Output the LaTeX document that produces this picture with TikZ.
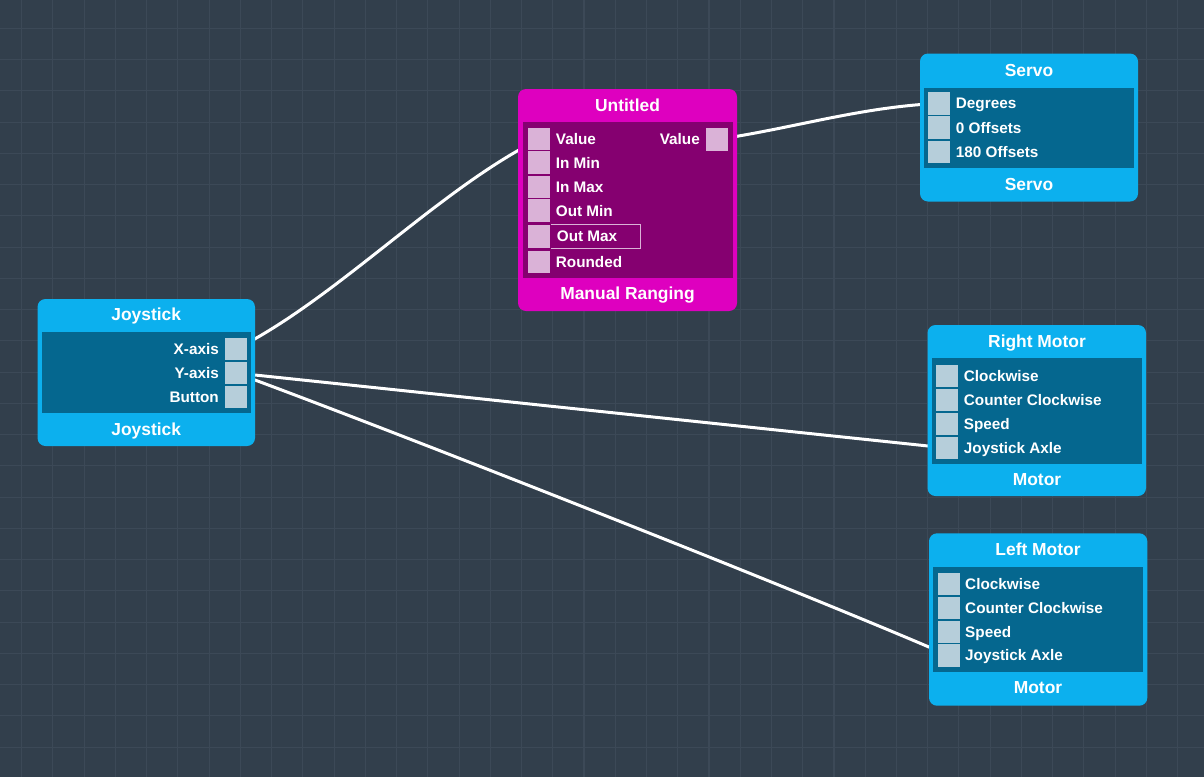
\documentclass[tikz,border=0pt]{standalone}
\usepackage{fontspec}
\setmainfont{Liberation Sans}
\pgfdeclarelayer{gridlayer}
\pgfdeclarelayer{wirelayer}
\pgfsetlayers{gridlayer,wirelayer,main}
\definecolor{bgc}{HTML}{323F4C}
\definecolor{gridc}{HTML}{3C4957}
\definecolor{blueO}{HTML}{0CB0EE}
\definecolor{blueP}{HTML}{05678F}
\definecolor{bluePort}{HTML}{B6CEDA}
\definecolor{magO}{HTML}{DE00BF}
\definecolor{magP}{HTML}{850070}
\definecolor{magPort}{HTML}{DAB2D7}
\begin{document}
\begin{tikzpicture}[x=1pt,y=-1pt,
  outerbox/.style={rounded corners=8pt, draw=none, inner sep=0},
  panelbox/.style={draw=none, inner sep=0},
  titletext/.style={text=white, inner sep=0, font=\fontsize{17.4}{20}\selectfont\bfseries, text height=12.4pt, text depth=0pt},
  labeltext/.style={text=white, inner sep=0, font=\fontsize{15.3}{18}\selectfont\bfseries, text height=10.9pt, text depth=0pt},
  portB/.style={fill=bluePort, draw=blueP, line width=1.2pt, minimum width=23.2pt, minimum height=24pt, inner sep=0},
  portM/.style={fill=magPort, draw=magP, line width=1.2pt, minimum width=23.2pt, minimum height=24pt, inner sep=0},
  wire/.style={white, line width=3pt, line cap=round},
  gridline/.style={gridc, line width=1.1pt}]
\useasboundingbox (0,0) rectangle (1204,777);
\begin{pgfonlayer}{gridlayer}
\fill[bgc] (0,0) rectangle (1204,777);
\foreach \i in {0,...,37} \draw[gridline] ({21.7+31.24*\i},0) -- ({21.7+31.24*\i},777);
\foreach \j in {0,...,23} \draw[gridline] (0,{28.3+31.25*\j}) -- (1204,{28.3+31.25*\j});
\end{pgfonlayer}

% Joystick
\node[outerbox, fill=blueO, minimum width=217.5pt, minimum height=147pt] (joy) at (146.25,372.5) {};
\node[panelbox, fill=blueP, minimum width=209.5pt, minimum height=81.5pt] (joyp) at (146.25,372.25) {};
\node[titletext] (joyt) at (146.25,314) {Joystick};
\node[titletext] (joyf) at (146.25,429.5) {Joystick};
\node[portB] (jx) at (236,349) {};
\node[portB] (jy) at (236,373) {};
\node[portB] (jb) at (236,397) {};
\node[labeltext, anchor=east] (jxl) at (219,349) {X-axis};
\node[labeltext, anchor=east] (jyl) at (219,373) {Y-axis};
\node[labeltext, anchor=east] (jbl) at (219,397) {Button};

% Untitled
\node[outerbox, fill=magO, minimum width=219pt, minimum height=222pt] (unt) at (627.5,200) {};
\node[panelbox, fill=magP, minimum width=210pt, minimum height=156pt] (untp) at (628,200) {};
\node[titletext] (untt) at (627.5,105.5) {Untitled};
\node[titletext] (untf) at (627.5,293) {Manual Ranging};
\node[draw=magPort, line width=0.9pt, minimum width=113pt, minimum height=24.4pt, inner sep=0] (omhl) at (583.8,236.5) {};
\node[portM] (uv) at (538.5,139.5) {};
\node[portM] (uimin) at (538.5,162.8) {};
\node[portM] (uimax) at (538.5,187) {};
\node[portM] (uomin) at (538.5,210.8) {};
\node[portM] (uomax) at (538.5,236.5) {};
\node[portM] (urnd) at (538.5,262) {};
\node[portM] (uo) at (717,139.5) {};
\node[labeltext, anchor=west] at (555.7,139.5) {Value};
\node[labeltext, anchor=west] at (555.7,162.8) {In Min};
\node[labeltext, anchor=west] at (555.7,187) {In Max};
\node[labeltext, anchor=west] at (555.7,210.8) {Out Min};
\node[labeltext, anchor=west] at (556.7,236.5) {Out Max};
\node[labeltext, anchor=west] at (555.7,262) {Rounded};
\node[labeltext, anchor=east] at (700,139.5) {Value};

% Servo
\node[outerbox, fill=blueO, minimum width=218pt, minimum height=148pt] (srv) at (1029,127.5) {};
\node[panelbox, fill=blueP, minimum width=209.5pt, minimum height=80pt] (srvp) at (1028.75,127.5) {};
\node[titletext] (srvt) at (1029,70.7) {Servo};
\node[titletext] (srvf) at (1029,184.3) {Servo};
\node[portB] (sd) at (939,103.3) {};
\node[portB] (s0) at (939,127.8) {};
\node[portB] (s180) at (939,152) {};
\node[labeltext, anchor=west] at (955.7,103.3) {Degrees};
\node[labeltext, anchor=west] at (955.7,127.8) {0 Offsets};
\node[labeltext, anchor=west] at (955.7,152) {180 Offsets};

% Right Motor
\node[outerbox, fill=blueO, minimum width=218.5pt, minimum height=171pt] (rm) at (1036.75,410.5) {};
\node[panelbox, fill=blueP, minimum width=209.4pt, minimum height=105.7pt] (rmp) at (1037,411.15) {};
\node[titletext] (rmt) at (1037,341.7) {Right Motor};
\node[titletext] (rmf) at (1037,479.3) {Motor};
\node[portB] (rcw) at (947,376) {};
\node[portB] (rccw) at (947,400) {};
\node[portB] (rsp) at (947,424) {};
\node[portB] (rja) at (947,448) {};
\node[labeltext, anchor=west] at (963.7,376) {Clockwise};
\node[labeltext, anchor=west] at (963.7,400) {Counter Clockwise};
\node[labeltext, anchor=west] at (963.7,424) {Speed};
\node[labeltext, anchor=west] at (963.7,448) {Joystick Axle};

% Left Motor
\node[outerbox, fill=blueO, minimum width=218.3pt, minimum height=172.4pt] (lm) at (1038.15,619.5) {};
\node[panelbox, fill=blueP, minimum width=210pt, minimum height=105pt] (lmp) at (1038.3,619.2) {};
\node[titletext] (lmt) at (1038,549) {Left Motor};
\node[titletext] (lmf) at (1038,687.7) {Motor};
\node[portB] (lcw) at (948.7,584) {};
\node[portB] (lccw) at (948.7,608) {};
\node[portB] (lsp) at (948.7,632) {};
\node[portB] (lja) at (948.7,655.5) {};
\node[labeltext, anchor=west] at (965,584) {Clockwise};
\node[labeltext, anchor=west] at (965,608) {Counter Clockwise};
\node[labeltext, anchor=west] at (965,632) {Speed};
\node[labeltext, anchor=west] at (965,655.5) {Joystick Axle};

% Wires
\begin{pgfonlayer}{wirelayer}
\draw[wire] (jx.center) .. controls +(100,-50) and +(-100,50) .. (uv.center);
\draw[wire] (uo.center) .. controls +(80,-12) and +(-80,4) .. (sd.center);
\draw[wire] (jy.center) -- (rja.center);
\draw[wire] (jy.center) .. controls +(150,55) and +(-150,-65) .. (lja.center);
\end{pgfonlayer}
\end{tikzpicture}
\end{document}
